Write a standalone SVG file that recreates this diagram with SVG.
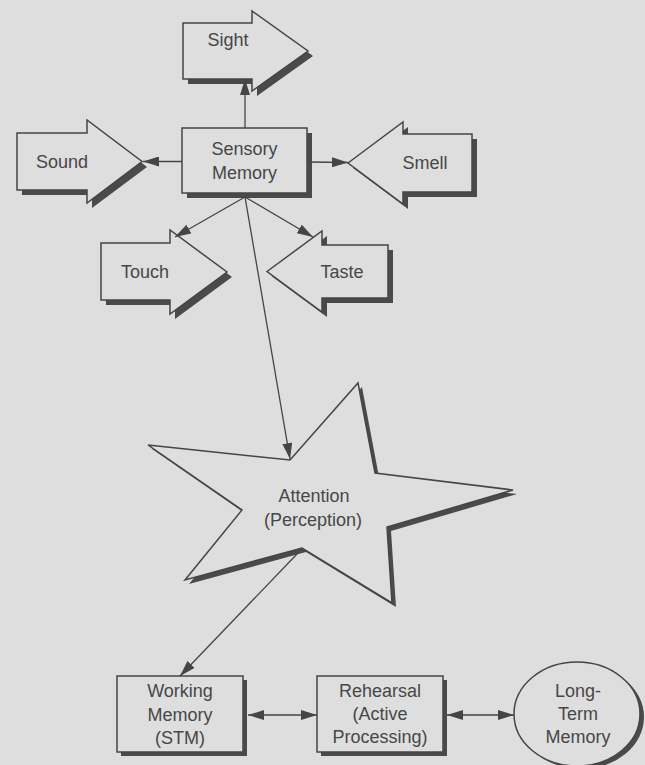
<svg xmlns="http://www.w3.org/2000/svg" width="645" height="765" viewBox="0 0 645 765">
<style>
.bg{fill:#dedede}
.sh{fill:#4a4a4a;stroke:none}
.shape{fill:#dedede;stroke:#454545;stroke-width:1.5;stroke-linejoin:miter}
.lbl{font-family:"Liberation Sans",Arial,sans-serif;font-size:18px;fill:#474747;text-anchor:middle}
.conn{stroke:#454545;stroke-width:1.3;fill:none}
</style>
<defs>
<marker id="ah" markerUnits="userSpaceOnUse" markerWidth="17" markerHeight="10" refX="16" refY="5" orient="auto-start-reverse">
<path d="M0,0 L16,5 L0,10 z" fill="#454545"/>
</marker>
</defs>
<rect class="bg" x="0" y="0" width="645" height="765"/>

<g id="sight">
<polygon class="sh" points="188,28 257,28 257,15 313,56 257,96 257,84 188,84"/>
<polygon class="shape" points="183,23 252,23 252,11 308,51 252,91 252,79 183,79"/>
<text class="lbl" x="228" y="46">Sight</text>
</g>

<g id="sound">
<polygon class="sh" points="22,138 92,138 92,125 147,167 92,208 92,195 22,195"/>
<polygon class="shape" points="17,133 87,133 87,120 142,161.5 87,203 87,190 17,190"/>
<text class="lbl" x="62" y="168">Sound</text>
</g>

<g id="smell">
<polygon class="sh" points="353,168 408,127 408,139 477,139 477,197 408,197 408,209"/>
<polygon class="shape" points="348,163 403,122 403,134 472,134 472,192 403,192 403,204"/>
<text class="lbl" x="425" y="169">Smell</text>
</g>

<g id="touch">
<polygon class="sh" points="106,248 175,248 175,235 232,277 175,319 175,305 106,305"/>
<polygon class="shape" points="101,243 170,243 170,230 227,272 170,314 170,300 101,300"/>
<text class="lbl" x="145" y="278">Touch</text>
</g>

<g id="taste">
<polygon class="sh" points="272,276.5 327,236 327,250 393,250 393,303 327,303 327,317"/>
<polygon class="shape" points="267,271.5 322,231 322,245 388,245 388,298 322,298 322,312"/>
<text class="lbl" x="342" y="278">Taste</text>
</g>

<g id="sensory-memory">
<rect class="sh" x="187" y="133" width="125" height="65"/>
<rect class="shape" x="182" y="128" width="125" height="65"/>
<text class="lbl" x="244.5" y="155">Sensory</text>
<text class="lbl" x="244.5" y="179">Memory</text>
</g>

<g id="attention">
<polygon class="sh" points="362,387 379,477 517,494 391,531 396,607 306,552 189,584 246,514 152,449 294,464"/>
<polygon class="shape" points="358,383 375,473 513,490 387,527 392,603 302,548 185,580 242,510 148,445 290,460"/>
<text class="lbl" x="314" y="502">Attention</text>
<text class="lbl" x="313" y="526">(Perception)</text>
</g>

<g id="working-memory">
<rect class="sh" x="121" y="680" width="126" height="76"/>
<rect class="shape" x="117" y="676" width="126" height="76"/>
<text class="lbl" x="180" y="697">Working</text>
<text class="lbl" x="180" y="721">Memory</text>
<text class="lbl" x="180" y="744">(STM)</text>
</g>

<g id="rehearsal">
<rect class="sh" x="321" y="680" width="126" height="76"/>
<rect class="shape" x="317" y="676" width="126" height="76"/>
<text class="lbl" x="380" y="697">Rehearsal</text>
<text class="lbl" x="380" y="720">(Active</text>
<text class="lbl" x="380" y="743">Processing)</text>
</g>

<g id="long-term-memory">
<ellipse class="sh" cx="581" cy="717" rx="63" ry="52"/>
<ellipse class="shape" cx="577" cy="714" rx="63" ry="52"/>
<text class="lbl" x="578" y="697">Long-</text>
<text class="lbl" x="578" y="720">Term</text>
<text class="lbl" x="578" y="743">Memory</text>
</g>

<g id="connectors">
<line class="conn" x1="245" y1="128" x2="245" y2="79" marker-end="url(#ah)"/>
<line class="conn" x1="182" y1="161.5" x2="143" y2="161.5" marker-end="url(#ah)"/>
<line class="conn" x1="307" y1="162" x2="348" y2="162.5" marker-end="url(#ah)"/>
<line class="conn" x1="245" y1="197" x2="175" y2="237" marker-end="url(#ah)"/>
<line class="conn" x1="245" y1="197" x2="313" y2="237" marker-end="url(#ah)"/>
<line class="conn" x1="245" y1="197" x2="290" y2="459" marker-end="url(#ah)"/>
<line class="conn" x1="297" y1="554" x2="180" y2="676" marker-end="url(#ah)"/>
<line class="conn" x1="248" y1="715" x2="317" y2="715" marker-start="url(#ah)" marker-end="url(#ah)"/>
<line class="conn" x1="447" y1="715" x2="514" y2="715" marker-start="url(#ah)" marker-end="url(#ah)"/>
</g>
</svg>
